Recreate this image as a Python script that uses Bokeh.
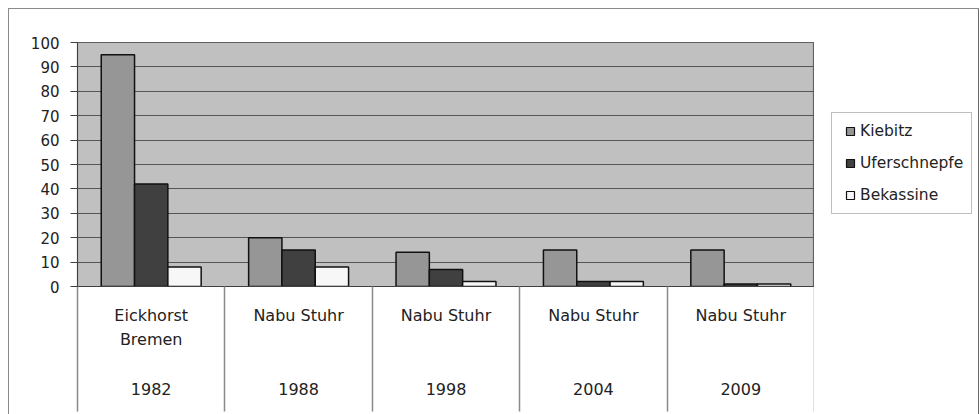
from bokeh.plotting import figure
from bokeh.models import (ColumnDataSource, Range1d, FixedTicker, LinearAxis,
                          Legend, LegendItem, Grid)
from bokeh.layouts import row
from bokeh.transform import dodge
from bokeh.embed import file_html
from bokeh.resources import INLINE

# ---- data ----
sites = ["Eickhorst\nBremen", "Nabu Stuhr", "Nabu Stuhr", "Nabu Stuhr", "Nabu Stuhr"]
years = ["1982", "1988", "1998", "2004", "2009"]
series = ["Kiebitz", "Uferschnepfe", "Bekassine"]
kiebitz = [95, 20, 14, 15, 15]
uferschnepfe = [42, 15, 7, 2, 1]
bekassine = [8, 8, 2, 2, 1]
y_ticks = list(range(0, 101, 10))

colors = ["#969696", "#404040", "#f7f7f7"]
FONT = "DejaVu Sans"

n = len(years)
centers = [i + 0.5 for i in range(n)]
bounds = [float(i) for i in range(n + 1)]

src = ColumnDataSource(dict(x=centers, Kiebitz=kiebitz,
                            Uferschnepfe=uferschnepfe, Bekassine=bekassine))

p = figure(width=806, height=406, output_backend="svg", toolbar_location=None,
           x_range=Range1d(0, n), y_range=Range1d(0, 100),
           x_axis_type=None, y_axis_type=None)
p.margin = (8, 0, 0, 8)
p.min_border_left = 69
p.min_border_right = 0
p.min_border_top = 34
p.min_border_bottom = 128
p.background_fill_color = "#c0c0c0"
p.border_fill_color = None
p.outline_line_color = "#606060"
p.outline_line_width = 1.2
p.styles = {"box-shadow": "inset 1px 1px 0 #8a8a8a"}

# y axis
yax = LinearAxis(ticker=FixedTicker(ticks=y_ticks, minor_ticks=[]))
yax.axis_line_color = "#404040"
yax.major_tick_line_color = "#404040"
yax.major_tick_in = 0
yax.major_tick_out = 7
yax.major_label_standoff = 11
yax.major_label_text_font = FONT
yax.major_label_text_font_size = "15px"
yax.major_label_text_color = "#222222"
p.add_layout(yax, "left")

# x axis (category labels + separators)
labels = {}
for c, s, yr in zip(centers, sites, years):
    nl = s.count("\n") + 1
    labels[c] = s + "\n" * (4 - nl) + yr
xax = LinearAxis(ticker=FixedTicker(ticks=centers, minor_ticks=bounds))
xax.major_label_overrides = labels
xax.axis_line_color = "#404040"
xax.major_tick_in = 0
xax.major_tick_out = 0
xax.minor_tick_in = 0
xax.minor_tick_out = 125
xax.minor_tick_line_color = "#8a8a8a"
xax.minor_tick_line_width = 1.5
xax.major_label_standoff = -106
xax.major_label_text_font = FONT
xax.major_label_text_font_size = "16px"
xax.major_label_text_color = "#222222"
xax.major_label_text_line_height = 1.31
p.add_layout(xax, "below")

grid = Grid(dimension=1, ticker=FixedTicker(ticks=y_ticks))
grid.grid_line_color = "#555555"
grid.grid_line_width = 1.2
p.add_layout(grid, "center")

bw = 0.226
offsets = [-bw, 0.0, bw]
for name, col, off in zip(series, colors, offsets):
    p.vbar(x=dodge("x", off), top=name, width=bw, bottom=0, source=src,
           fill_color=col, line_color="#111111", line_width=1.5)

# legend panel (separate canvas so the legend is not clipped)
q = figure(width=165, height=406, output_backend="svg", toolbar_location=None,
           x_axis_type=None, y_axis_type=None, min_border=0)
q.margin = (8, 0, 0, 0)
q.outline_line_color = None
q.background_fill_color = None
q.border_fill_color = None
q.styles = {"box-shadow": "inset 0 1px 0 #8a8a8a, inset -1px 0 0 #6a6a6a"}

items = []
for name, col in zip(series, colors):
    proxy = q.scatter(x="x", y=name, source=src, marker="square", size=8,
                      fill_color=col, line_color="#111111", line_width=1.2,
                      visible=False)
    items.append(LegendItem(label=name, renderers=[proxy]))

legend = Legend(items=items, location=(17, 72))
legend.border_line_color = "#808080"
legend.border_line_width = 1
legend.background_fill_color = "white"
legend.padding = 8
legend.spacing = 12
legend.margin = 0
legend.glyph_width = 20
legend.glyph_height = 20
legend.label_height = 20
legend.label_standoff = -1
legend.label_text_font = FONT
legend.label_text_font_size = "15.5px"
legend.label_text_color = "#222222"
q.add_layout(legend, "center")

layout = row(p, q)
open("out.html", "w").write(file_html(layout, INLINE))
